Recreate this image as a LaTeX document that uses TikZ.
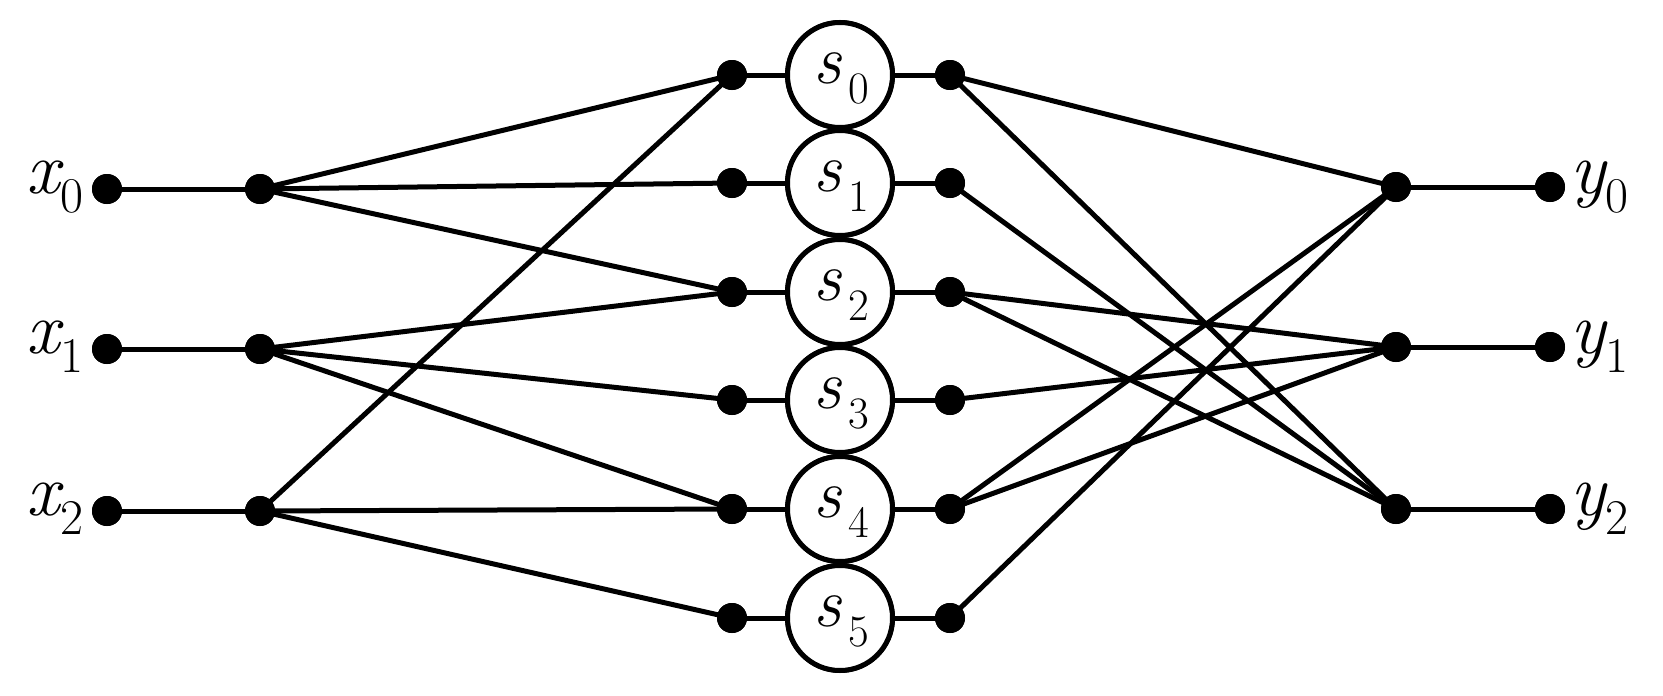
\documentclass[tikz,border=0pt]{standalone}
\newcommand\biglab[2]{{\fontsize{74}{74}\selectfont\itshape #1}\raisebox{-19pt}{\fontsize{50}{50}\selectfont #2}}
\newcommand\slab[2]{{\fontsize{70}{70}\selectfont\itshape #1}\kern7pt\raisebox{-20pt}{\fontsize{45}{45}\selectfont #2}}
\tikzset{
  dotnode/.style={circle,fill=black,draw=none,minimum size=30pt,inner sep=0pt},
  snode/.style={circle,draw=black,line width=5pt,fill=white,minimum size=105pt,inner sep=0pt},
  wire/.style={line width=5pt,line cap=round},
  lab/.style={inner sep=0pt,outer sep=0pt}
}
\begin{document}
\begin{tikzpicture}[x=1pt,y=-1pt]
\useasboundingbox (0,0) rectangle (1663,696);
% input dots
\foreach \i/\yy in {0/189,1/349,2/511}{
  \node[dotnode] (x\i) at (107,\yy) {};
  \node[dotnode] (a\i) at (260,\yy) {};
}
\foreach \i/\yy in {0/187,1/347,2/509}{
  \node[dotnode] (b\i) at (1396,\yy) {};
  \node[dotnode] (z\i) at (1550,\yy) {};
}
\foreach \i/\yy in {0/75,1/183,2/292,3/400,4/509,5/618}{
  \node[dotnode] (L\i) at (732,\yy) {};
  \node[dotnode] (R\i) at (950,\yy) {};
  \node[snode] (s\i) at (840,\yy) {};
}
% wires
\begin{scope}[wire]
\foreach \i in {0,1,2}{
  \draw (x\i.center) -- (a\i.center);
  \draw (b\i.center) -- (z\i.center);
}
\foreach \i in {0,...,5}{
  \draw (L\i.center) -- (s\i);
  \draw (s\i) -- (R\i.center);
}
\draw (a0.center) -- (L0.center);
\draw (a0.center) -- (L1.center);
\draw (a0.center) -- (L2.center);
\draw (a1.center) -- (L2.center);
\draw (a1.center) -- (L3.center);
\draw (a1.center) -- (L4.center);
\draw (a2.center) -- (L0.center);
\draw (a2.center) -- (L4.center);
\draw (a2.center) -- (L5.center);
\draw (R0.center) -- (b0.center);
\draw (R0.center) -- (b2.center);
\draw (R1.center) -- (b2.center);
\draw (R2.center) -- (b1.center);
\draw (R2.center) -- (b2.center);
\draw (R3.center) -- (b1.center);
\draw (R4.center) -- (b0.center);
\draw (R4.center) -- (b1.center);
\draw (R5.center) -- (b0.center);
\end{scope}
% redraw dots and circles on top
\foreach \i/\yy in {0/189,1/349,2/511}{
  \node[dotnode] at (107,\yy) {};
  \node[dotnode] at (260,\yy) {};
}
\foreach \i/\yy in {0/187,1/347,2/509}{
  \node[dotnode] at (1396,\yy) {};
  \node[dotnode] at (1550,\yy) {};
}
\foreach \i/\yy in {0/75,1/183,2/292,3/400,4/509,5/618}{
  \node[dotnode] at (732,\yy) {};
  \node[dotnode] at (950,\yy) {};
  \node[snode] (c\i) at (840,\yy) {};
  \node[lab,anchor=base] (t\i) at (841,\yy+8) {\slab{s}{\i}};
}
% labels
\foreach \i/\yy in {0/189,1/349,2/511}{
  \node[lab,anchor=base east] (lx\i) at (83,\yy+4) {\biglab{x}{\i}};
}
\foreach \i/\yy in {0/187,1/347,2/509}{
  \node[lab,anchor=base west] (ly\i) at (1570,\yy+6) {\biglab{y}{\i}};
}
\end{tikzpicture}
\end{document}
